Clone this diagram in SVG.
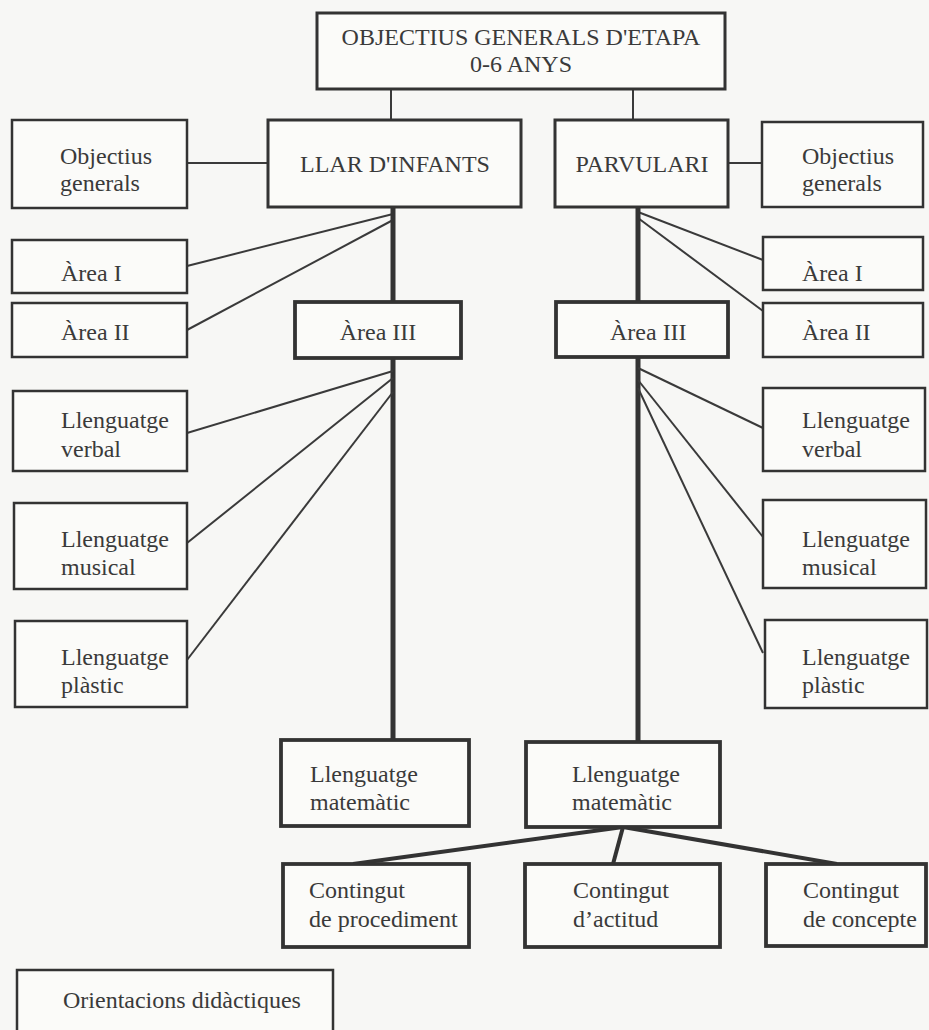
<svg xmlns="http://www.w3.org/2000/svg" width="929" height="1030" viewBox="0 0 929 1030">
<style>
text { font-family: "Liberation Serif", "Times New Roman", serif; font-size: 24px; fill: #3a3a3a; }
.c { text-anchor: middle; }
.box { fill: #fbfbf9; stroke: #333; stroke-width: 2.5; }
.mid { stroke-width: 3; }
.thick { stroke-width: 3.8; }
.thin { stroke: #3a3a3a; stroke-width: 2; fill: none; }
.trunk { stroke: #333; stroke-width: 5; fill: none; }
.branch { stroke: #333; stroke-width: 4; fill: none; }
</style>
<rect width="929" height="1030" fill="#f7f7f5"/>
<g id="connectors">
  <line class="thin" x1="391" y1="89" x2="391" y2="120"/>
  <line class="thin" x1="633" y1="89" x2="633" y2="120"/>
  <line class="thin" x1="187" y1="163" x2="268" y2="163"/>
  <line class="thin" x1="728" y1="163" x2="762" y2="163"/>
  <line class="thin" x1="393" y1="214" x2="187" y2="266"/>
  <line class="thin" x1="393" y1="220" x2="187" y2="330"/>
  <line class="thin" x1="638" y1="212" x2="763" y2="260"/>
  <line class="thin" x1="638" y1="218" x2="763" y2="311"/>
  <line class="trunk" x1="393" y1="207" x2="393" y2="303"/>
  <line class="trunk" x1="393" y1="357" x2="393" y2="740"/>
  <line class="trunk" x1="638" y1="207" x2="638" y2="303"/>
  <line class="trunk" x1="638" y1="357" x2="638" y2="742"/>
  <line class="thin" x1="393" y1="371" x2="187" y2="433"/>
  <line class="thin" x1="393" y1="378" x2="187" y2="543"/>
  <line class="thin" x1="393" y1="392" x2="187" y2="660"/>
  <line class="thin" x1="638" y1="368" x2="763" y2="428"/>
  <line class="thin" x1="638" y1="380" x2="763" y2="537"/>
  <line class="thin" x1="638" y1="388" x2="763" y2="653"/>
  <line class="branch" x1="623" y1="827" x2="353" y2="864"/>
  <line class="branch" x1="623" y1="827" x2="613" y2="864"/>
  <line class="branch" x1="623" y1="827" x2="837" y2="864"/>
</g>
<g id="top">
  <rect class="box mid" x="317" y="13" width="408" height="76"/>
  <text class="c" x="521" y="45">OBJECTIUS GENERALS D'ETAPA</text>
  <text class="c" x="521" y="72">0-6 ANYS</text>
</g>
<g id="llar">
  <rect class="box mid" x="268" y="120" width="253" height="87"/>
  <text class="c" x="395" y="172">LLAR D'INFANTS</text>
</g>
<g id="parvulari">
  <rect class="box mid" x="555" y="120" width="173" height="87"/>
  <text class="c" x="642" y="172">PARVULARI</text>
</g>
<g id="obj-left">
  <rect class="box" x="12" y="120" width="175" height="88"/>
  <text x="60" y="164">Objectius</text>
  <text x="60" y="191">generals</text>
</g>
<g id="obj-right">
  <rect class="box" x="762" y="122" width="161" height="85"/>
  <text x="802" y="164">Objectius</text>
  <text x="802" y="191">generals</text>
</g>
<g id="area1-left">
  <rect class="box" x="12" y="240" width="175" height="53"/>
  <text x="61" y="281">Àrea I</text>
</g>
<g id="area2-left">
  <rect class="box" x="12" y="303" width="175" height="54"/>
  <text x="61" y="340">Àrea II</text>
</g>
<g id="area1-right">
  <rect class="box" x="763" y="237" width="160" height="53"/>
  <text x="802" y="281">Àrea I</text>
</g>
<g id="area2-right">
  <rect class="box" x="763" y="303" width="160" height="54"/>
  <text x="802" y="340">Àrea II</text>
</g>
<g id="area3-left">
  <rect class="box thick" x="295" y="302" width="166" height="56"/>
  <text class="c" x="378" y="340">Àrea III</text>
</g>
<g id="area3-right">
  <rect class="box thick" x="556" y="302" width="172" height="55"/>
  <text x="610" y="340">Àrea III</text>
</g>
<g id="verbal-left">
  <rect class="box" x="13" y="391" width="174" height="80"/>
  <text x="61" y="428">Llenguatge</text>
  <text x="61" y="457">verbal</text>
</g>
<g id="musical-left">
  <rect class="box" x="14" y="503" width="173" height="86"/>
  <text x="61" y="547">Llenguatge</text>
  <text x="61" y="575">musical</text>
</g>
<g id="plastic-left">
  <rect class="box" x="15" y="621" width="172" height="86"/>
  <text x="61" y="665">Llenguatge</text>
  <text x="61" y="693">plàstic</text>
</g>
<g id="verbal-right">
  <rect class="box" x="763" y="388" width="162" height="83"/>
  <text x="802" y="428">Llenguatge</text>
  <text x="802" y="457">verbal</text>
</g>
<g id="musical-right">
  <rect class="box" x="763" y="500" width="163" height="88"/>
  <text x="802" y="547">Llenguatge</text>
  <text x="802" y="575">musical</text>
</g>
<g id="plastic-right">
  <rect class="box" x="765" y="620" width="162" height="88"/>
  <text x="802" y="665">Llenguatge</text>
  <text x="802" y="693">plàstic</text>
</g>
<g id="matematic-left">
  <rect class="box thick" x="281" y="740" width="188" height="86"/>
  <text x="310" y="782">Llenguatge</text>
  <text x="310" y="810">matemàtic</text>
</g>
<g id="matematic-right">
  <rect class="box thick" x="526" y="742" width="194" height="85"/>
  <text x="572" y="782">Llenguatge</text>
  <text x="572" y="810">matemàtic</text>
</g>
<g id="procediment">
  <rect class="box thick" x="283" y="864" width="186" height="83"/>
  <text x="309" y="898">Contingut</text>
  <text x="309" y="927">de procediment</text>
</g>
<g id="actitud">
  <rect class="box thick" x="525" y="864" width="195" height="83"/>
  <text x="573" y="898">Contingut</text>
  <text x="573" y="927">d’actitud</text>
</g>
<g id="concepte">
  <rect class="box thick" x="766" y="864" width="160" height="82"/>
  <text x="803" y="898">Contingut</text>
  <text x="803" y="927">de concepte</text>
</g>
<g id="orientacions">
  <rect class="box" x="17" y="970" width="316" height="80"/>
  <text x="63" y="1008">Orientacions didàctiques</text>
</g>
</svg>
